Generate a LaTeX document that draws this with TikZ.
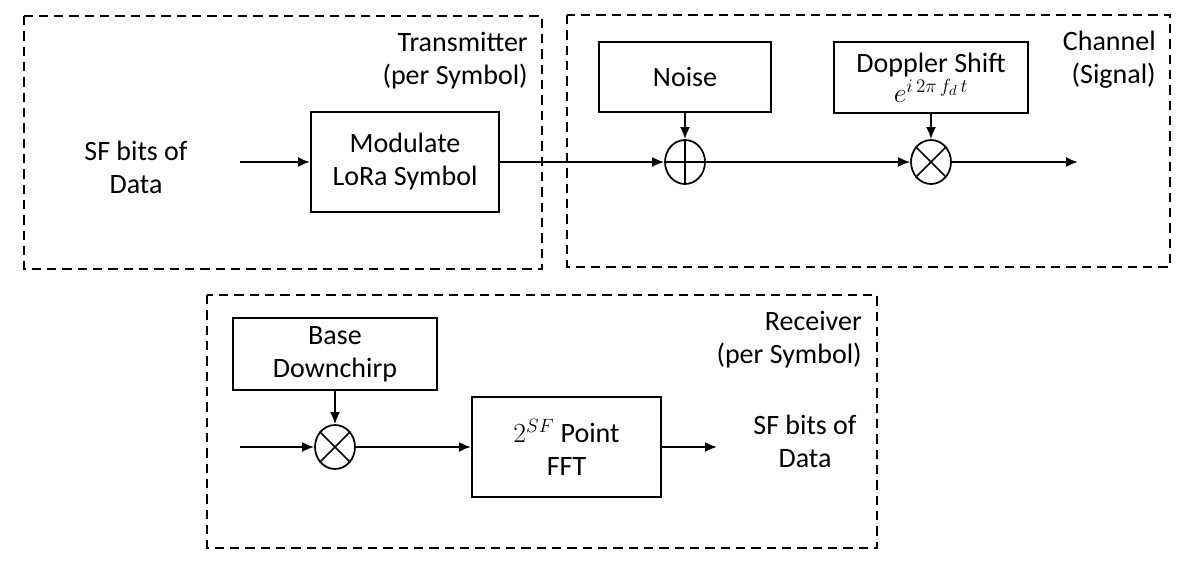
\documentclass[tikz,border=0pt]{standalone}
\usepackage{fontspec}
\setmainfont{Carlito}
\usetikzlibrary{arrows.meta,shapes.geometric}
\tikzset{>={Latex[length=9pt,width=7.5pt]},
  blk/.style={draw,line width=1.5pt,align=center,inner sep=0pt,font=\fontsize{21}{24.75}\selectfont},
  txt/.style={align=center,inner sep=0pt,font=\fontsize{21}{24.75}\selectfont},
  grp/.style={draw,line width=1.4pt,dash pattern=on 7pt off 4.5pt},
  arr/.style={->,line width=1.5pt},
  op/.style={draw,ellipse,line width=1.3pt,minimum width=30pt,minimum height=33pt,inner sep=0pt}}

\begin{document}
\begin{tikzpicture}[x=0.75pt,y=-0.75pt]
\useasboundingbox (0,0) rectangle (1195,573);
\draw[grp] (24,16) rectangle (542,269);
\draw[grp] (567,15) rectangle (1170,267);
\draw[grp] (207,295) rectangle (877,548);
\node[txt,align=right,anchor=east] (txlabel) at (528,61) {Transmitter\\(per Symbol)};
\node[txt,align=right,anchor=east] (chlabel) at (1156,60) {Channel\\(Signal)};
\node[txt,align=right,anchor=east] (rxlabel) at (862,340) {Receiver\\(per Symbol)};
\node[txt] (txsrc) at (136,167) {SF bits of\\Data};
\coordinate (txin) at (240,162);
\node[blk,minimum width=141pt,minimum height=74.3pt] (modbox) at (405,162) {Modulate\\LoRa Symbol};
\node[op] (adder) at (685,162) {};
\draw[line width=1.3pt] (adder.north) -- (adder.south) (adder.west) -- (adder.east);
\node[blk,minimum width=129pt,minimum height=52.5pt] (noisebox) at (685,77) {Noise};
\node[blk,minimum width=145.5pt,minimum height=53.3pt] (dopbox) at (931,77.5) {Doppler Shift\\[-2pt]$e^{i\,2\pi\,f_d\,t}$};
\node[op] (chmix) at (931,162) {};
\draw[line width=1.3pt] (chmix.135) -- (chmix.-45) (chmix.45) -- (chmix.-135);
\coordinate (chout) at (1078,162);
\draw[arr] (txin) -- (modbox);
\draw[arr] (modbox) -- (adder);
\draw[arr] (noisebox) -- (adder);
\draw[arr] (adder) -- (chmix);
\draw[arr] (dopbox) -- (chmix);
\draw[arr] (chmix) -- (chout);
\node[blk,minimum width=152.3pt,minimum height=54pt] (chirpbox) at (335,354) {Base\\Downchirp};
\node[op] (rxmix) at (335,447) {};
\draw[line width=1.3pt] (rxmix.135) -- (rxmix.-45) (rxmix.45) -- (rxmix.-135);
\coordinate (rxin) at (240,447);
\node[blk,minimum width=141.8pt,minimum height=74.3pt] (fftbox) at (566.5,447) {$2^{SF}$ Point\\FFT};
\coordinate (rxend) at (717,447);
\node[txt] (rxout) at (805,441) {SF bits of\\Data};
\draw[arr] (rxin) -- (rxmix);
\draw[arr] (chirpbox) -- (rxmix);
\draw[arr] (rxmix) -- (fftbox);
\draw[arr] (fftbox) -- (rxend);
\end{tikzpicture}
\end{document}
